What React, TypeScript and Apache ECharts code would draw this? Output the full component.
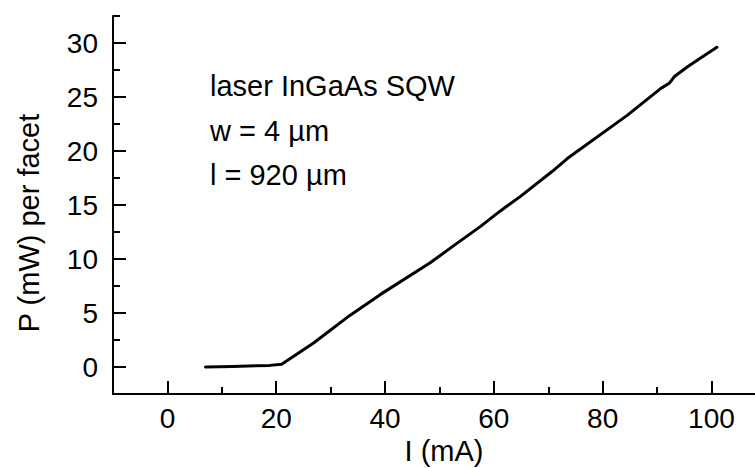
import React, { useEffect, useRef } from "react";
import * as echarts from "echarts";

const currentMA: number[] = [7, 12, 18.8, 21, 26.8, 33.6, 39.1, 48.3, 53.2, 57.5, 61.2, 64.9, 70.7, 73.5, 84.5, 90.7, 92.3, 93.2, 95.6, 98, 101];
const powerMW: number[] = [0, 0.05, 0.15, 0.25, 2.2, 4.8, 6.7, 9.65, 11.45, 13.0, 14.45, 15.8, 18.1, 19.3, 23.3, 25.8, 26.3, 26.9, 27.8, 28.6, 29.6];

const xMajorTicks: number[] = [0, 20, 40, 60, 80, 100];
const xMinorTicks: number[] = [10, 30, 50, 70, 90];
const yMajorTicks: number[] = [0, 5, 10, 15, 20, 25, 30];
const yMinorTicks: number[] = [2.5, 7.5, 12.5, 17.5, 22.5, 27.5, 32.5];

const annotationLines: string[] = ["laser InGaAs SQW", "w = 4 µm", "l = 920 µm"];
const xTitle = "I (mA)";
const yTitle = "P (mW) per facet";

const FONT = "'Liberation Sans', Arial, Helvetica, sans-serif";

export default function App() {
  const ref = useRef<HTMLDivElement>(null);
  useEffect(() => {
    if (!ref.current) return;
    const chart = echarts.init(ref.current, undefined, { renderer: "svg" });
    const axisCommon = {
      type: "value" as const,
      min: -10,
      max: 108,
      position: "bottom" as const,
      splitLine: { show: false },
    };
    const yCommon = {
      type: "value" as const,
      min: -2.5,
      max: 32.5,
      position: "left" as const,
      splitLine: { show: false },
    };
    chart.setOption({
      animation: false,
      backgroundColor: "#ffffff",
      grid: { left: 113, right: 0, top: 16, bottom: 74, containLabel: false, outerBoundsMode: "none" },
      xAxis: [
        {
          ...axisCommon,
          axisLine: { show: true, onZero: false, lineStyle: { color: "#000", width: 2 } },
          axisTick: { show: true, inside: true, length: 13, lineStyle: { color: "#000", width: 2 }, customValues: xMajorTicks },
          axisLabel: { show: true, color: "#000", fontSize: 28, fontFamily: FONT, margin: 10, customValues: xMajorTicks },
        },
        {
          ...axisCommon,
          axisLine: { show: false, onZero: false },
          axisTick: { show: true, inside: true, length: 7, lineStyle: { color: "#000", width: 2 }, customValues: xMinorTicks },
          axisLabel: { show: false },
        },
      ],
      yAxis: [
        {
          ...yCommon,
          axisLine: { show: true, onZero: false, lineStyle: { color: "#000", width: 2 } },
          axisTick: { show: true, inside: true, length: 13, lineStyle: { color: "#000", width: 2 }, customValues: yMajorTicks },
          axisLabel: { show: true, color: "#000", fontSize: 28, fontFamily: FONT, margin: 15, customValues: yMajorTicks },
        },
        {
          ...yCommon,
          axisLine: { show: false, onZero: false },
          axisTick: { show: true, inside: true, length: 7, lineStyle: { color: "#000", width: 2 }, customValues: yMinorTicks },
          axisLabel: { show: false },
        },
      ],
      series: [
        {
          type: "line",
          xAxisIndex: 0,
          yAxisIndex: 0,
          data: currentMA.map((c, i) => [c, powerMW[i]]),
          showSymbol: false,
          symbol: "none",
          lineStyle: { color: "#000", width: 3, cap: "round", join: "round" },
          itemStyle: { color: "#000" },
        },
      ],
      graphic: [
        ...annotationLines.map((t, i) => ({
          type: "text",
          x: 210,
          y: 86 + i * 44.5,
          style: { text: t, font: `29px ${FONT}`, fill: "#000", textAlign: "left", textVerticalAlign: "middle", verticalAlign: "middle" },
        })),
        {
          type: "text",
          x: 444,
          y: 451,
          style: { text: xTitle, font: `29px ${FONT}`, fill: "#000", textAlign: "center", textVerticalAlign: "middle", verticalAlign: "middle" },
        },
        {
          type: "text",
          x: 29,
          y: 223,
          rotation: Math.PI / 2,
          style: { text: yTitle, font: `29px ${FONT}`, fill: "#000", textAlign: "center", textVerticalAlign: "middle", verticalAlign: "middle" },
        },
      ],
    });
    return () => chart.dispose();
  }, []);
  return <div ref={ref} style={{ position: "absolute", left: 0, top: 0, width: 755, height: 468 }} />;
}
